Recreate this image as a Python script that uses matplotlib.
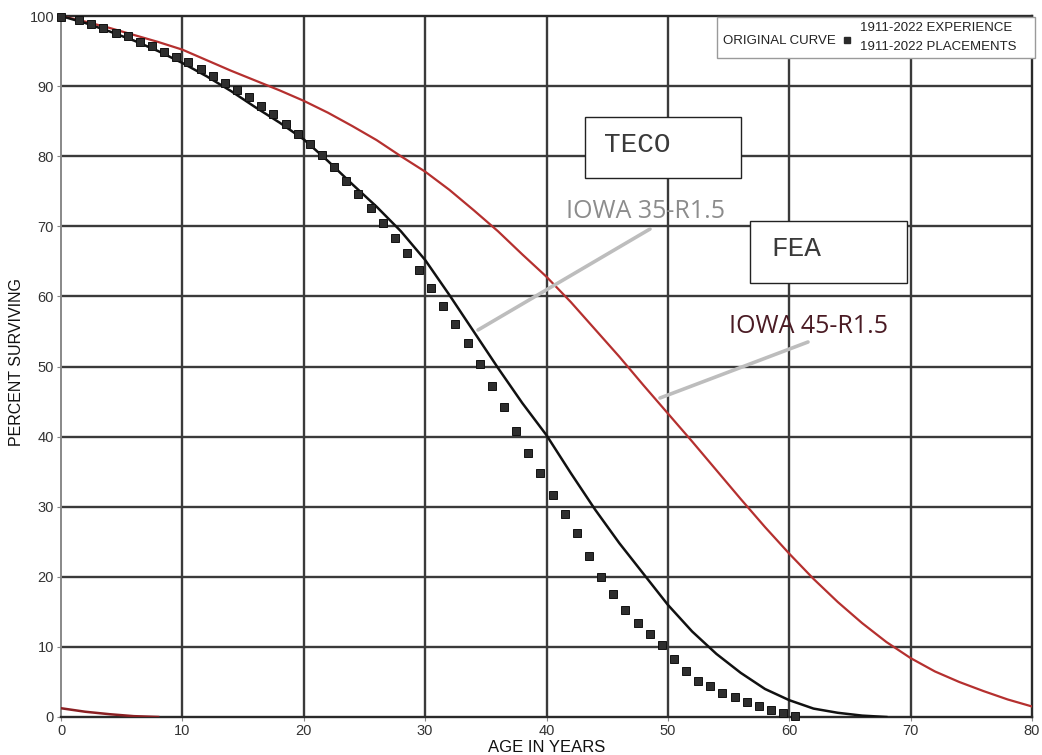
import matplotlib
matplotlib.use("Agg")
import matplotlib.pyplot as plt
from matplotlib.patches import Rectangle

# ---- data ----
exp_age = [0, 1.5, 2.5, 3.5, 4.5, 5.5, 6.5, 7.5, 8.5, 9.5, 10.5, 11.5, 12.5, 13.5, 14.5,
           15.5, 16.5, 17.5, 18.5, 19.5, 20.5, 21.5, 22.5, 23.5, 24.5, 25.5, 26.5, 27.5,
           28.5, 29.5, 30.5, 31.5, 32.5, 33.5, 34.5, 35.5, 36.5, 37.5, 38.5, 39.5, 40.5,
           41.5, 42.5, 43.5, 44.5, 45.5, 46.5, 47.5, 48.5, 49.5, 50.5, 51.5, 52.5, 53.5,
           54.5, 55.5, 56.5, 57.5, 58.5, 59.5, 60.5]
exp_pct = [99.9, 99.5, 98.8, 98.3, 97.6, 97.1, 96.3, 95.7, 94.8, 94.2, 93.4, 92.4, 91.5,
           90.5, 89.5, 88.5, 87.2, 86.0, 84.6, 83.1, 81.7, 80.1, 78.4, 76.5, 74.6, 72.6,
           70.4, 68.4, 66.2, 63.7, 61.2, 58.6, 56.0, 53.3, 50.3, 47.2, 44.2, 40.8, 37.7,
           34.8, 31.7, 28.9, 26.2, 23.0, 20.0, 17.5, 15.3, 13.4, 11.8, 10.2, 8.3, 6.6, 5.2,
           4.4, 3.4, 2.9, 2.1, 1.6, 1.0, 0.5, 0.1]

iowa35_age = [0, 2, 4, 6, 8, 10, 12, 14, 16, 18, 20, 22, 24, 26, 28, 30, 32, 34, 36, 38,
              40, 42, 44, 46, 48, 50, 52, 54, 56, 58, 60, 62, 64, 66, 68]
iowa35_pct = [100, 99.0, 97.8, 96.5, 95.0, 93.3, 91.4, 89.3, 87.0, 84.8, 82.4, 79.3, 76.0,
              72.8, 69.3, 65.2, 60.2, 55.0, 49.8, 44.8, 40.2, 34.8, 29.6, 24.8, 20.4, 16.0,
              12.2, 9.0, 6.3, 4.0, 2.4, 1.2, 0.6, 0.2, 0.0]

iowa45_age = [0, 2, 4, 6, 8, 10, 12, 14, 16, 18, 20, 22, 24, 26, 28, 30, 32, 34, 36, 38,
              40, 42, 44, 46, 48, 50, 52, 54, 56, 58, 60, 62, 64, 66, 68, 70, 72, 74, 76,
              78, 80]
iowa45_pct = [100, 99.2, 98.3, 97.3, 96.3, 95.2, 93.7, 92.2, 90.8, 89.4, 87.9, 86.2, 84.3,
              82.3, 80.0, 77.8, 75.2, 72.3, 69.3, 66.0, 62.8, 59.2, 55.3, 51.4, 47.3, 43.3,
              39.3, 35.2, 31.1, 27.1, 23.3, 19.7, 16.4, 13.4, 10.7, 8.4, 6.5, 5.0, 3.7, 2.5,
              1.5]

tail_age = [0, 2, 4, 6, 8]
tail_pct = [1.25, 0.75, 0.4, 0.12, 0.0]

x_ticks = [0, 10, 20, 30, 40, 50, 60, 70, 80]
y_ticks = [0, 10, 20, 30, 40, 50, 60, 70, 80, 90, 100]

# ---- figure ----
W, H = 1042, 755
fig = plt.figure(figsize=(W / 100, H / 100), dpi=100)
L, R, T, B = 61, 1032, 16, 717
ax = fig.add_axes([L / W, 1 - B / H, (R - L) / W, (B - T) / H])
ax.set_xlim(0, 80)
ax.set_ylim(0, 100)

def px(xp, yp):
    """pixel position -> data coordinates"""
    return (xp - L) / (R - L) * 80, (B - yp) / (B - T) * 100

def fr(xp, yp):
    """pixel position -> axes fraction"""
    return (xp - L) / (R - L), (B - yp) / (B - T)

grid_c = "#3a3a3a"
for v in x_ticks[1:-1]:
    ax.axvline(v, color=grid_c, lw=1.7, zorder=1)
for v in y_ticks[1:-1]:
    ax.axhline(v, color=grid_c, lw=1.7, zorder=1)

for s in ["top", "right", "bottom"]:
    ax.spines[s].set_color("#2a2a2a")
    ax.spines[s].set_linewidth(1.7)
ax.spines["left"].set_color("#888888")
ax.spines["left"].set_linewidth(1.4)

ax.set_xticks(x_ticks)
ax.set_yticks(y_ticks)
ax.tick_params(axis="both", length=3, width=0.8, color="#888888",
               labelsize=10.5, labelcolor="#333333", pad=2)
for lab in ax.get_xticklabels() + ax.get_yticklabels():
    lab.set_fontfamily("Liberation Sans")

ax.set_xlabel("AGE IN YEARS", fontsize=12, family="Liberation Sans",
              color="#111111")
ax.set_ylabel("PERCENT SURVIVING", fontsize=11.5, family="Liberation Sans",
              color="#111111")
lx, ly = fr(17, 362)
ax.yaxis.set_label_coords(lx, ly)
ax.yaxis.label.set_va("center")
lx, ly = fr(0, 748)
ax.xaxis.set_label_coords(0.5, ly)
ax.xaxis.label.set_va("center")

red = "#b5302f"
ax.plot(iowa45_age, iowa45_pct, color=red, lw=1.6, zorder=3)
ax.plot(tail_age, tail_pct, color="#8a1f22", lw=1.8, zorder=3)
ax.plot(iowa35_age, iowa35_pct, color="#111111", lw=1.8, zorder=3)
ax.plot(exp_age, exp_pct, linestyle="none", marker="s", markersize=5.4,
        markerfacecolor="#2e2e2e", markeredgecolor="#111111", markeredgewidth=0.7,
        zorder=4, clip_on=False)

# legend box
x0, y0 = fr(717, 58)
x1, y1 = fr(1035, 17)
ax.add_patch(Rectangle((x0, y0), x1 - x0, y1 - y0, transform=ax.transAxes,
                       facecolor="white", edgecolor="#9a9a9a", lw=1.0, zorder=6,
                       clip_on=False))
leg_font = dict(transform=ax.transAxes, fontsize=9.5, family="Liberation Sans",
                color="#222222", va="center", ha="left", zorder=7)
tx, ty = fr(723, 41)
ax.text(tx, ty, "ORIGINAL CURVE", **leg_font)
mx, my = fr(847, 40)
ax.plot([mx], [my], transform=ax.transAxes, marker="s", markersize=4.4,
        color="#2a2a2a", zorder=7, clip_on=False)
tx, ty = fr(860, 28)
ax.text(tx, ty, "1911-2022 EXPERIENCE", **leg_font)
tx, ty = fr(860, 47)
ax.text(tx, ty, "1911-2022 PLACEMENTS", **leg_font)

# TECO / FEA boxes
for (bx0, by0, bx1, by1, label, lx, ly) in [
        (585, 117, 741, 178, "TECO", 604, 145),
        (750, 221, 907, 283, "FEA", 771, 249)]:
    a0, b0 = fr(bx0, by1)
    a1, b1 = fr(bx1, by0)
    ax.add_patch(Rectangle((a0, b0), a1 - a0, b1 - b0, transform=ax.transAxes,
                           facecolor="white", edgecolor="#222222", lw=1.0, zorder=6))
    lxf, lyf = fr(lx, ly)
    ax.text(lxf, lyf, label, transform=ax.transAxes, fontsize=20,
            family="Liberation Mono", color="#3a3a3a", va="center", ha="left",
            zorder=7)

# Iowa labels and leader lines
lead = "#bdbdbd"
p1, p2 = px(650, 229), px(478, 330)
ax.plot([p1[0], p2[0]], [p1[1], p2[1]], color=lead, lw=2.6, zorder=5,
        solid_capstyle="round")
p1, p2 = px(808, 342), px(660, 398)
ax.plot([p1[0], p2[0]], [p1[1], p2[1]], color=lead, lw=2.6, zorder=5,
        solid_capstyle="round")

t = fr(566, 212)
ax.text(t[0], t[1], "IOWA 35-R1.5", transform=ax.transAxes, fontsize=18,
        family="Open Sans", color="#8c8c8c", va="center", ha="left", zorder=7)
t = fr(729, 326)
ax.text(t[0], t[1], "IOWA 45-R1.5", transform=ax.transAxes, fontsize=18,
        family="Open Sans", color="#4a1b24", va="center", ha="left", zorder=7)

fig.savefig("out.png", dpi=100)
